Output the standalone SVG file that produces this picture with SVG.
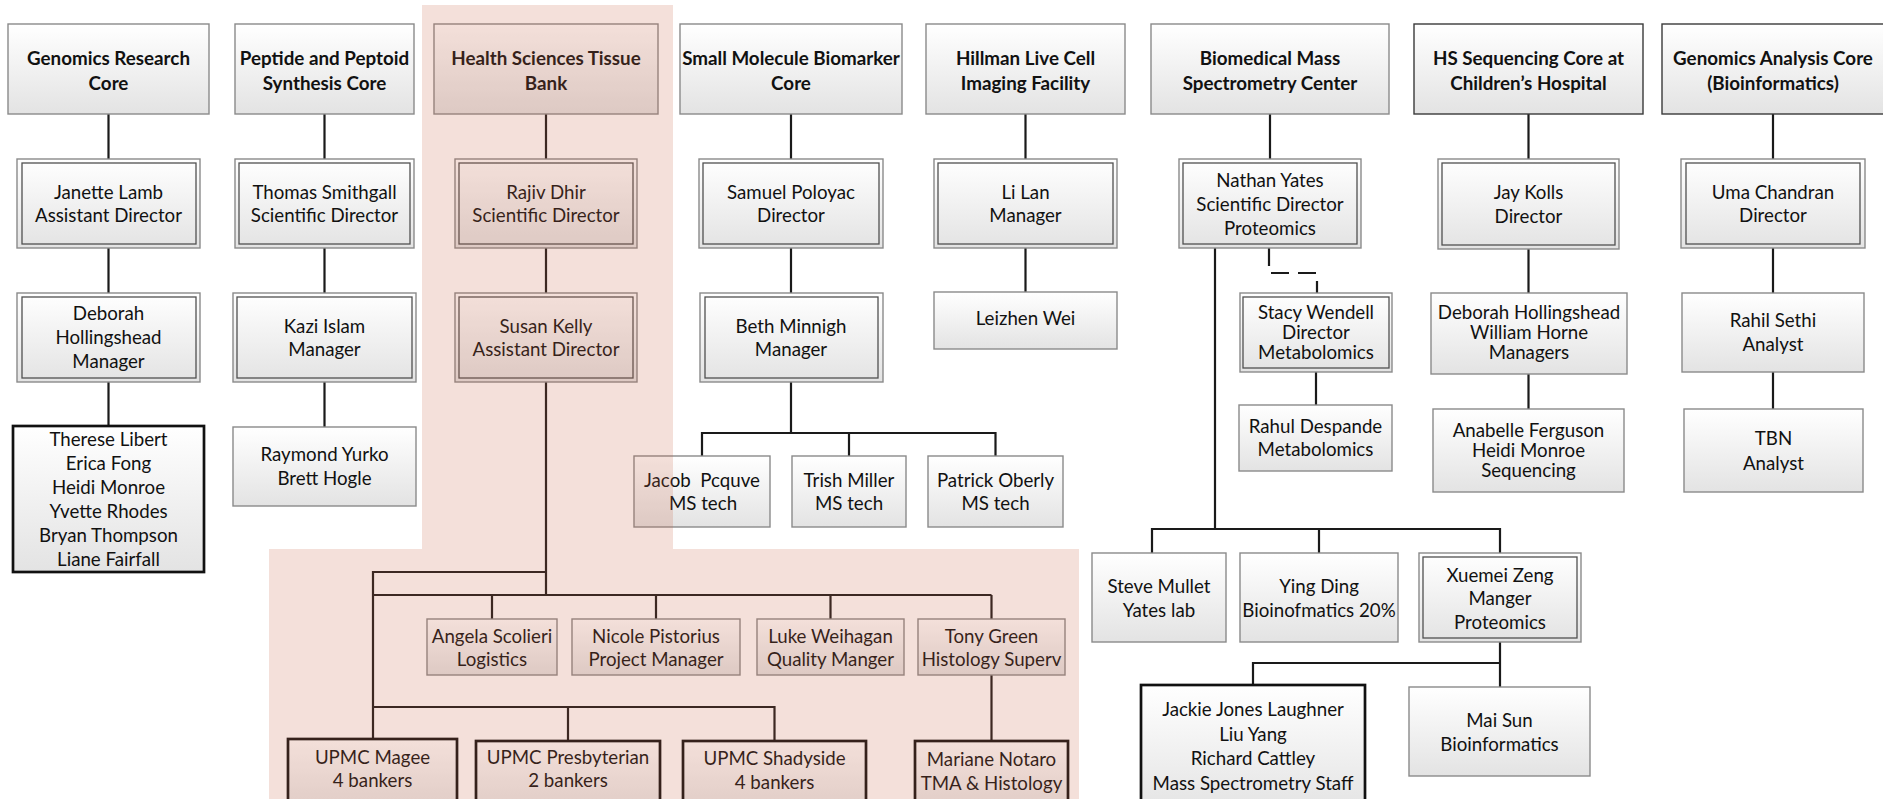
<svg xmlns="http://www.w3.org/2000/svg" width="1883" height="799" viewBox="0 0 1883 799">
<defs>
<linearGradient id="g" x1="0" y1="0" x2="0" y2="1">
<stop offset="0" stop-color="#ffffff"/>
<stop offset="1" stop-color="#e3e3e3"/>
</linearGradient>
</defs>
<style>
text{font-family:Lato,"Liberation Sans",sans-serif;font-size:18.7px;fill:#111;text-anchor:middle}
.b{font-weight:bold;font-size:18.8px}
.h{fill:url(#g);stroke:#8a8a8a;stroke-width:1.4}
.hd{fill:url(#g);stroke:#3a3a3a;stroke-width:1.4}
.o{fill:url(#g);stroke:#8a8a8a;stroke-width:1.4}
.i{fill:none;stroke:#505050;stroke-width:1.3}
.s{fill:url(#g);stroke:#8a8a8a;stroke-width:1.4}
.k{fill:url(#g);stroke:#111;stroke-width:2.7}
.ln{fill:none;stroke:#1a1a1a;stroke-width:2.2}
.ds{fill:none;stroke:#1a1a1a;stroke-width:2.2;stroke-dasharray:18 9}
.pk{fill:#c86446;fill-opacity:0.2}
</style>
<rect width="1883" height="799" fill="#ffffff"/>

<g id="connectors">
<path class="ln" d="M108.5,114V159M108.5,248V293M108.5,382V426"/>
<path class="ln" d="M324.5,114V159M324.5,248V293M324.5,382V427"/>
<path class="ln" d="M546,114V159M546,248V293M546,382V595M546,572H373V739M373,595H991.5M492,595V619M656,595V619M830.5,595V619M991.5,595V619M991.5,675V741M373,707H774.5V741M568,707V741"/>
<path class="ln" d="M791,114V159M791,248V293M791,382V433M702,456V433H995.5V456M849,433V456"/>
<path class="ln" d="M1025.5,114V159M1025.5,248V292"/>
<path class="ln" d="M1270,114V159M1215,244V529M1152,553V529H1500V553M1319,529V553M1316,372V405M1500,642V687M1253,685V663H1500"/>
<path class="ds" d="M1269,248V273H1317V293"/>
<path class="ln" d="M1528.5,114V159M1528.5,249V293M1528.5,374V409"/>
<path class="ln" d="M1773,114V159M1773,248V293M1773,372V409"/>
</g>

<g id="h-grc"><rect class="h" x="8" y="24" width="201" height="90"/><text class="b"><tspan x="108.5" y="64.5">Genomics Research</tspan><tspan x="108.5" y="89.5">Core</tspan></text></g>
<g id="h-pps"><rect class="h" x="235" y="24" width="179" height="90"/><text class="b"><tspan x="324.5" y="64.5">Peptide and Peptoid</tspan><tspan x="324.5" y="89.5">Synthesis Core</tspan></text></g>
<g id="h-hstb"><rect class="h" x="434" y="24" width="224" height="90"/><text class="b"><tspan x="546" y="64.5">Health Sciences Tissue</tspan><tspan x="546" y="89.5">Bank</tspan></text></g>
<g id="h-smbc"><rect class="h" x="680" y="24" width="222" height="90"/><text class="b"><tspan x="791" y="64.5">Small Molecule Biomarker</tspan><tspan x="791" y="89.5">Core</tspan></text></g>
<g id="h-hlcif"><rect class="h" x="926" y="24" width="199" height="90"/><text class="b"><tspan x="1025.5" y="64.5">Hillman Live Cell</tspan><tspan x="1025.5" y="89.5">Imaging Facility</tspan></text></g>
<g id="h-bmsc"><rect class="h" x="1151" y="24" width="238" height="90"/><text class="b"><tspan x="1270" y="64.5">Biomedical Mass</tspan><tspan x="1270" y="89.5">Spectrometry Center</tspan></text></g>
<g id="h-hssc"><rect class="hd" x="1414" y="24" width="229" height="90"/><text class="b"><tspan x="1528.5" y="64.5">HS Sequencing Core at</tspan><tspan x="1528.5" y="89.5">Children’s Hospital</tspan></text></g>
<g id="h-gac"><rect class="hd" x="1662" y="24" width="230" height="90"/><text class="b"><tspan x="1773" y="64.5">Genomics Analysis Core</tspan><tspan x="1773" y="89.5">(Bioinformatics)</tspan></text></g>

<g id="n-janette"><rect class="o" x="17" y="159" width="183" height="89"/><rect class="i" x="22" y="163" width="174" height="81"/><text><tspan x="108.5" y="198.5">Janette Lamb</tspan><tspan x="108.5" y="221.5">Assistant Director</tspan></text></g>
<g id="n-thomas"><rect class="o" x="235" y="159" width="179" height="89"/><rect class="i" x="239" y="163" width="171" height="81"/><text><tspan x="324.5" y="198.5">Thomas Smithgall</tspan><tspan x="324.5" y="221.5">Scientific Director</tspan></text></g>
<g id="n-rajiv"><rect class="o" x="455" y="159" width="182" height="89"/><rect class="i" x="459" y="163" width="174" height="81"/><text><tspan x="546" y="198.5">Rajiv Dhir</tspan><tspan x="546" y="221.5">Scientific Director</tspan></text></g>
<g id="n-samuel"><rect class="o" x="699" y="159" width="184" height="89"/><rect class="i" x="703" y="163" width="176" height="81"/><text><tspan x="791" y="198.5">Samuel Poloyac</tspan><tspan x="791" y="221.5">Director</tspan></text></g>
<g id="n-lilan"><rect class="o" x="934" y="159" width="183" height="89"/><rect class="i" x="938" y="163" width="175" height="81"/><text><tspan x="1025.5" y="198.5">Li Lan</tspan><tspan x="1025.5" y="221.5">Manager</tspan></text></g>
<g id="n-nathan"><rect class="o" x="1179" y="159" width="182" height="89"/><rect class="i" x="1183" y="163" width="174" height="81"/><text><tspan x="1270" y="186.5">Nathan Yates</tspan><tspan x="1270" y="210.5">Scientific Director</tspan><tspan x="1270" y="234.5">Proteomics</tspan></text></g>
<g id="n-jay"><rect class="o" x="1438" y="159" width="181" height="90"/><rect class="i" x="1442" y="163" width="173" height="82"/><text><tspan x="1528.5" y="198.5">Jay Kolls</tspan><tspan x="1528.5" y="222.5">Director</tspan></text></g>
<g id="n-uma"><rect class="o" x="1681" y="159" width="184" height="89"/><rect class="i" x="1686" y="163" width="174" height="81"/><text><tspan x="1773" y="198.5">Uma Chandran</tspan><tspan x="1773" y="221.5">Director</tspan></text></g>

<g id="n-deborah1"><rect class="o" x="17" y="293" width="183" height="89"/><rect class="i" x="22" y="297" width="174" height="81" stroke="#999"/><text><tspan x="108.5" y="319.5">Deborah</tspan><tspan x="108.5" y="343.5">Hollingshead</tspan><tspan x="108.5" y="367.5">Manager</tspan></text></g>
<g id="n-kazi"><rect class="o" x="233" y="293" width="183" height="89"/><rect class="i" x="237" y="297" width="175" height="81" stroke="#999"/><text><tspan x="324.5" y="332.5">Kazi Islam</tspan><tspan x="324.5" y="355.5">Manager</tspan></text></g>
<g id="n-susan"><rect class="o" x="455" y="293" width="182" height="89"/><rect class="i" x="459" y="297" width="174" height="81" stroke="#999"/><text><tspan x="546" y="332.5">Susan Kelly</tspan><tspan x="546" y="355.5">Assistant Director</tspan></text></g>
<g id="n-beth"><rect class="o" x="700" y="293" width="183" height="89"/><rect class="i" x="705" y="297" width="173" height="81" stroke="#999"/><text><tspan x="791" y="332.5">Beth Minnigh</tspan><tspan x="791" y="355.5">Manager</tspan></text></g>
<g id="n-leizhen"><rect class="s" x="934" y="292" width="183" height="57"/><text><tspan x="1025.5" y="324.5">Leizhen Wei</tspan></text></g>
<g id="n-stacy"><rect class="o" x="1240" y="293" width="152" height="79"/><rect class="i" x="1243" y="297" width="146" height="71"/><text><tspan x="1316" y="318.5">Stacy Wendell</tspan><tspan x="1316" y="338.5">Director</tspan><tspan x="1316" y="358.5">Metabolomics</tspan></text></g>
<g id="n-deborah2"><rect class="s" x="1431" y="293" width="196" height="81"/><text><tspan x="1529" y="318.5">Deborah Hollingshead</tspan><tspan x="1529" y="338.5">William Horne</tspan><tspan x="1529" y="358.5">Managers</tspan></text></g>
<g id="n-rahil"><rect class="s" x="1682" y="293" width="182" height="79"/><text><tspan x="1773" y="326.5">Rahil Sethi</tspan><tspan x="1773" y="350.5">Analyst</tspan></text></g>

<g id="n-therese"><rect class="k" x="13" y="426" width="191" height="146"/><text><tspan x="108.5" y="445.5">Therese Libert</tspan><tspan x="108.5" y="469.5">Erica Fong</tspan><tspan x="108.5" y="493.5">Heidi Monroe</tspan><tspan x="108.5" y="517.5">Yvette Rhodes</tspan><tspan x="108.5" y="541.5">Bryan Thompson</tspan><tspan x="108.5" y="565.5">Liane Fairfall</tspan></text></g>
<g id="n-raymond"><rect class="s" x="233" y="427" width="183" height="79"/><text><tspan x="324.5" y="460.5">Raymond Yurko</tspan><tspan x="324.5" y="484.5">Brett Hogle</tspan></text></g>
<g id="n-jacob"><rect class="s" x="634" y="456" width="136" height="71"/><text xml:space="preserve"><tspan x="702" y="486.5">Jacob  Pcquve</tspan><tspan x="703" y="509.5">MS tech</tspan></text></g>
<g id="n-trish"><rect class="s" x="792" y="456" width="114" height="71"/><text><tspan x="849" y="486.5">Trish Miller</tspan><tspan x="849" y="509.5">MS tech</tspan></text></g>
<g id="n-patrick"><rect class="s" x="928" y="456" width="135" height="71"/><text><tspan x="995.5" y="486.5">Patrick Oberly</tspan><tspan x="995.5" y="509.5">MS tech</tspan></text></g>
<g id="n-rahul"><rect class="s" x="1239" y="405" width="153" height="66"/><text><tspan x="1315.5" y="432.5">Rahul Despande</tspan><tspan x="1315.5" y="455.5">Metabolomics</tspan></text></g>
<g id="n-anabelle"><rect class="s" x="1433" y="409" width="191" height="83"/><text><tspan x="1528.5" y="436.5">Anabelle Ferguson</tspan><tspan x="1528.5" y="456.5">Heidi Monroe</tspan><tspan x="1528.5" y="476.5">Sequencing</tspan></text></g>
<g id="n-tbn"><rect class="s" x="1684" y="409" width="179" height="83"/><text><tspan x="1773.5" y="444.5">TBN</tspan><tspan x="1773.5" y="469.5">Analyst</tspan></text></g>

<g id="n-steve"><rect class="s" x="1092" y="553" width="134" height="89"/><text><tspan x="1159" y="592.5">Steve Mullet</tspan><tspan x="1159" y="616.5">Yates lab</tspan></text></g>
<g id="n-ying"><rect class="s" x="1240" y="553" width="158" height="89"/><text><tspan x="1319" y="592.5">Ying Ding</tspan><tspan x="1319" y="616.5">Bioinofmatics 20%</tspan></text></g>
<g id="n-xuemei"><rect class="o" x="1419" y="553" width="162" height="89"/><rect class="i" x="1423" y="557" width="154" height="81"/><text><tspan x="1500" y="581.5">Xuemei Zeng</tspan><tspan x="1500" y="604.5">Manger</tspan><tspan x="1500" y="628.5">Proteomics</tspan></text></g>
<g id="n-jackie"><rect class="k" x="1141" y="685" width="224" height="130"/><text><tspan x="1253" y="715.5">Jackie Jones Laughner</tspan><tspan x="1253" y="740.5">Liu Yang</tspan><tspan x="1253" y="764.5">Richard Cattley</tspan><tspan x="1253" y="789.5">Mass Spectrometry Staff</tspan></text></g>
<g id="n-maisun"><rect class="s" x="1409" y="687" width="181" height="89"/><text><tspan x="1499.5" y="726.5">Mai Sun</tspan><tspan x="1499.5" y="750.5">Bioinformatics</tspan></text></g>

<g id="n-angela"><rect class="s" x="427" y="619" width="130" height="56"/><text><tspan x="492" y="642.5">Angela Scolieri</tspan><tspan x="492" y="665.5">Logistics</tspan></text></g>
<g id="n-nicole"><rect class="s" x="572" y="619" width="168" height="56"/><text><tspan x="656" y="642.5">Nicole Pistorius</tspan><tspan x="656" y="665.5">Project Manager</tspan></text></g>
<g id="n-luke"><rect class="s" x="757" y="619" width="147" height="56"/><text><tspan x="830.5" y="642.5">Luke Weihagan</tspan><tspan x="830.5" y="665.5">Quality Manger</tspan></text></g>
<g id="n-tony"><rect class="s" x="918" y="619" width="147" height="56"/><text><tspan x="991.5" y="642.5">Tony Green</tspan><tspan x="991.5" y="665.5">Histology Superv</tspan></text></g>
<g id="n-magee"><rect class="k" x="288" y="739" width="169" height="80"/><text><tspan x="372.5" y="763.5">UPMC Magee</tspan><tspan x="372.5" y="786.5">4 bankers</tspan></text></g>
<g id="n-presby"><rect class="k" x="476" y="741" width="184" height="80"/><text><tspan x="568" y="763.5">UPMC Presbyterian</tspan><tspan x="568" y="786.5">2 bankers</tspan></text></g>
<g id="n-shady"><rect class="k" x="683" y="741" width="183" height="80"/><text><tspan x="774.5" y="764.5">UPMC Shadyside</tspan><tspan x="774.5" y="788.5">4 bankers</tspan></text></g>
<g id="n-mariane"><rect class="k" x="915" y="741" width="153" height="80"/><text><tspan x="991.5" y="765.5">Mariane Notaro</tspan><tspan x="991.5" y="789.5">TMA &amp; Histology</tspan></text></g>

<path id="tissue-bank-highlight" class="pk" d="M422,5H673V549H1079V799H269V549H422Z"/>
</svg>
